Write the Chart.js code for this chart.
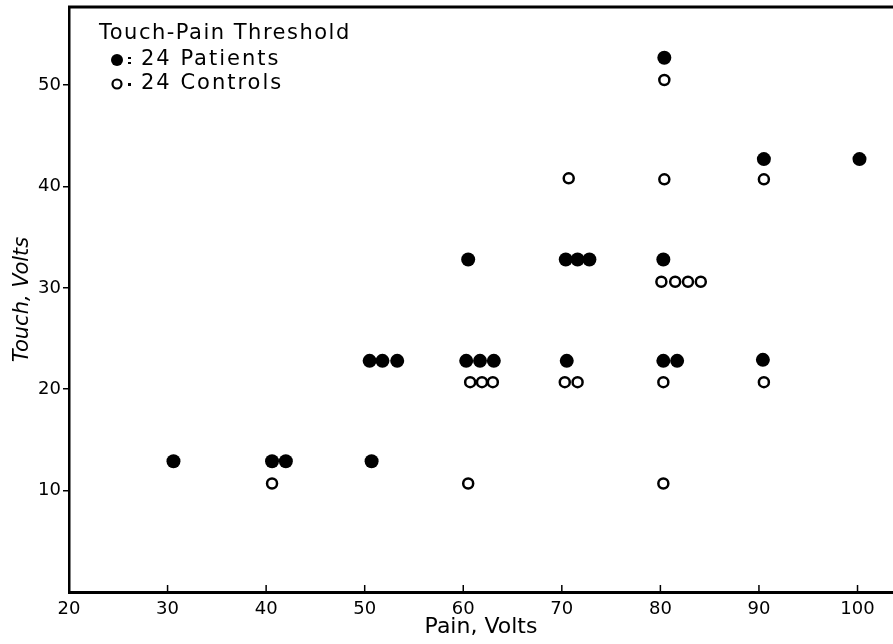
<!DOCTYPE html>
<html>
<head>
<meta charset="utf-8">
<script src="https://cdn.jsdelivr.net/npm/chart.js@4"></script>
<style>
  html, body { margin: 0; padding: 0; background: #fff; }
  #wrap { width: 893px; height: 644px; }
</style>
</head>
<body>
<div id="wrap"><canvas id="chart" width="893" height="644"></canvas></div>
<script>
// x = pain volts, y = touch volts (side-by-side dots are offset slightly in x, as in the figure)
const patientsX = [30.6, 40.6, 42.0, 50.7, 50.5, 51.8, 53.3, 60.3, 61.7, 63.1, 60.5, 70.5, 70.4, 71.6, 72.8, 80.4, 80.3, 80.3, 81.7, 90.5, 90.4, 100.2];
const patientsY = [12.9, 12.9, 12.9, 12.9, 22.8, 22.8, 22.8, 22.8, 22.8, 22.8, 32.8, 22.8, 32.8, 32.8, 32.8, 52.7, 32.8, 22.8, 22.8, 42.7, 22.9, 42.7];

const controlsX = [40.6, 60.5, 60.7, 61.9, 63.0, 70.7, 70.3, 71.6, 80.4, 80.4, 80.1, 81.5, 82.8, 84.1, 80.3, 80.3, 90.5, 90.5];
const controlsY = [10.7, 10.7, 20.7, 20.7, 20.7, 40.8, 20.7, 20.7, 50.5, 40.7, 30.6, 30.6, 30.6, 30.6, 20.7, 10.7, 40.7, 20.7];

const xTicks = [20, 30, 40, 50, 60, 70, 80, 90, 100];
const yTicks = [10, 20, 30, 40, 50];

const legendTitle = 'Touch-Pain Threshold';
const legendLines = ['24 Patients', '24 Controls'];

const FONT = '"DejaVu Sans", sans-serif';

function toPoints(xs, ys) {
  return xs.map((x, i) => ({ x: x, y: ys[i] }));
}

// frame line at top, inward ticks on x axis, legend block
const extras = {
  id: 'extras',
  afterDraw(chart) {
    const ctx = chart.ctx;
    const a = chart.chartArea;
    const xs = chart.scales.x;
    ctx.save();
    ctx.strokeStyle = '#000';
    ctx.lineWidth = 3;
    ctx.beginPath();
    ctx.moveTo(a.left - 1, a.top);
    ctx.lineTo(a.right, a.top);
    ctx.stroke();

    ctx.lineWidth = 1.5;
    xTicks.forEach(v => {
      const px = xs.getPixelForValue(v);
      if (v === xTicks[0]) return;
      ctx.beginPath();
      ctx.moveTo(px, a.bottom);
      ctx.lineTo(px, a.bottom - 7);
      ctx.stroke();
    });

    // legend (the original lettering is wide, so open it up a little)
    ctx.fillStyle = '#000';
    ctx.textBaseline = 'middle';
    ctx.textAlign = 'left';
    ctx.letterSpacing = '1.5px';
    ctx.font = '21px ' + FONT;
    ctx.fillText(legendTitle, a.left + 30, a.top + 27);

    ctx.beginPath();
    ctx.arc(a.left + 48, a.top + 53, 6, 0, Math.PI * 2);
    ctx.fill();
    ctx.fillRect(a.left + 59, a.top + 50, 3, 2);
    ctx.fillRect(a.left + 59, a.top + 55, 3, 2);
    ctx.letterSpacing = '2px';
    ctx.font = '21px ' + FONT;
    ctx.fillText(legendLines[0], a.left + 72, a.top + 53);

    ctx.lineWidth = 2.2;
    ctx.beginPath();
    ctx.arc(a.left + 48, a.top + 77, 4.5, 0, Math.PI * 2);
    ctx.stroke();
    ctx.fillRect(a.left + 59, a.top + 76, 3, 3);
    ctx.fillText(legendLines[1], a.left + 72, a.top + 77);
    ctx.restore();
  }
};

new Chart(document.getElementById('chart'), {
  type: 'scatter',
  data: {
    datasets: [
      {
        label: 'Patients',
        data: toPoints(patientsX, patientsY),
        pointRadius: 7,
        pointHoverRadius: 7,
        backgroundColor: '#000',
        borderColor: '#000',
        borderWidth: 0
      },
      {
        label: 'Controls',
        data: toPoints(controlsX, controlsY),
        pointRadius: 5,
        pointHoverRadius: 5,
        backgroundColor: '#fff',
        borderColor: '#000',
        borderWidth: 2.5
      }
    ]
  },
  options: {
    responsive: false,
    animation: false,
    layout: { autoPadding: false, padding: { top: 7, right: 0, left: 0, bottom: 0 } },
    plugins: {
      legend: { display: false },
      tooltip: { enabled: false }
    },
    scales: {
      x: {
        type: 'linear',
        min: 20,
        max: 103.6,
        afterBuildTicks: s => { s.ticks = xTicks.map(v => ({ value: v })); },
        afterFit: s => { s.height = 52; s.paddingLeft = 0; s.paddingRight = 0; },
        border: { display: true, color: '#000', width: 3 },
        grid: { display: true, drawOnChartArea: false, drawTicks: false },
        ticks: {
          color: '#000',
          padding: 7,
          maxRotation: 0,
          font: { family: FONT, size: 18 }
        },
        title: {
          display: true,
          text: 'Pain, Volts',
          color: '#000',
          padding: { top: 0, bottom: 4 },
          font: { family: FONT, size: 22 }
        }
      },
      y: {
        type: 'linear',
        min: 0,
        max: 57.7,
        afterBuildTicks: s => { s.ticks = yTicks.map(v => ({ value: v })); },
        afterFit: s => { s.width = 69; s.paddingTop = 0; s.paddingBottom = 0; },
        border: { display: true, color: '#000', width: 2.5 },
        grid: { display: true, drawOnChartArea: false, drawTicks: true, tickLength: 6, color: '#000', lineWidth: 1.5 },
        ticks: {
          color: '#000',
          padding: 2,
          font: { family: FONT, size: 18 }
        },
        title: {
          display: true,
          text: 'Touch, Volts',
          color: '#000',
          padding: { top: 10, bottom: 0 },
          font: { family: FONT, size: 21, style: 'italic' }
        }
      }
    }
  },
  plugins: [extras]
});
</script>
</body>
</html>
